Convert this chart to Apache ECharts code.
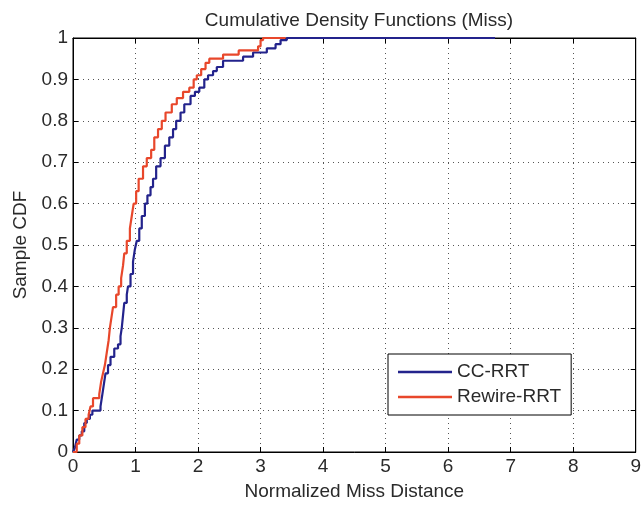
<!DOCTYPE html>
<html>
<head>
<meta charset="utf-8">
<script src="https://cdn.jsdelivr.net/npm/echarts@6/dist/echarts.min.js"></script>
<style>
  html, body { margin: 0; padding: 0; background: #fff; }
  #chart { width: 644px; height: 506px; }
</style>
</head>
<body>
<div id="chart"></div>
<script>
// Empirical CDF samples: [normalized miss distance, cumulative fraction]
const ccRrt = [
  [0.00, 0.00], [0.03, 0.01], [0.06, 0.03], [0.10, 0.04], [0.14, 0.05],
  [0.18, 0.07], [0.22, 0.08], [0.27, 0.09], [0.31, 0.10], [0.44, 0.11],
  [0.47, 0.14], [0.50, 0.17], [0.52, 0.19], [0.56, 0.21], [0.60, 0.23],
  [0.66, 0.25], [0.72, 0.26], [0.76, 0.28], [0.78, 0.30], [0.80, 0.33],
  [0.82, 0.36], [0.86, 0.38], [0.88, 0.40], [0.92, 0.43], [0.96, 0.46],
  [0.99, 0.49], [1.02, 0.51], [1.06, 0.54], [1.10, 0.57], [1.15, 0.60],
  [1.19, 0.62], [1.24, 0.64], [1.28, 0.66], [1.33, 0.69], [1.40, 0.71],
  [1.47, 0.74], [1.54, 0.76], [1.60, 0.78], [1.65, 0.80], [1.72, 0.82],
  [1.78, 0.84], [1.88, 0.86], [1.95, 0.87], [2.02, 0.88], [2.10, 0.90],
  [2.16, 0.91], [2.24, 0.92], [2.30, 0.93], [2.40, 0.945], [2.72, 0.955],
  [2.88, 0.965], [3.10, 0.975], [3.24, 0.985], [3.32, 0.995], [3.42, 1.00],
  [6.75, 1.00]
];

const rewireRrt = [
  [0.00, 0.00], [0.06, 0.02], [0.10, 0.04], [0.15, 0.06], [0.20, 0.08],
  [0.25, 0.09], [0.28, 0.11], [0.32, 0.13], [0.42, 0.14], [0.45, 0.17],
  [0.48, 0.19], [0.51, 0.21], [0.54, 0.24], [0.57, 0.27], [0.59, 0.30],
  [0.62, 0.33], [0.64, 0.35], [0.69, 0.38], [0.73, 0.40], [0.77, 0.42],
  [0.80, 0.45], [0.82, 0.48], [0.86, 0.51], [0.91, 0.54], [0.94, 0.57],
  [0.97, 0.60], [1.01, 0.63], [1.05, 0.66], [1.12, 0.69], [1.18, 0.71],
  [1.25, 0.73], [1.30, 0.76], [1.36, 0.78], [1.42, 0.80], [1.48, 0.82],
  [1.58, 0.84], [1.66, 0.855], [1.76, 0.87], [1.86, 0.88], [1.93, 0.90],
  [1.98, 0.91], [2.05, 0.925], [2.12, 0.94], [2.18, 0.95], [2.40, 0.96],
  [2.65, 0.97], [2.96, 0.98], [3.00, 0.995], [3.04, 1.00], [3.40, 1.00]
];

const seriesNames = ['CC-RRT', 'Rewire-RRT'];
const seriesColors = ['#23238c', '#e8472b'];

const FONT = 'Liberation Sans, Arial, sans-serif';
const TEXT = '#2a2a2a';

const chart = echarts.init(document.getElementById('chart'), null, { renderer: 'canvas' });

const baseX = {
  type: 'value', min: 0, max: 9, interval: 1,
  axisLine: { show: true, onZero: false, lineStyle: { color: '#000', width: 1 } },
  axisTick: { show: true, inside: true, length: 5, lineStyle: { color: '#000' } }
};
const baseY = {
  type: 'value', min: 0, max: 1, interval: 0.1,
  axisLine: { show: true, onZero: false, lineStyle: { color: '#000', width: 1 } },
  axisTick: { show: true, inside: true, length: 5, lineStyle: { color: '#000' } }
};

chart.setOption({
  animation: false,
  backgroundColor: '#fff',
  title: {
    text: 'Cumulative Density Functions (Miss)',
    left: 354, top: 6, textAlign: 'center',
    textStyle: { fontFamily: FONT, fontSize: 19, fontWeight: 'normal', color: TEXT }
  },
  grid: {
    left: 73, right: 8, top: 38, bottom: 49,
    show: true, borderColor: '#000', borderWidth: 1, backgroundColor: '#fff'
  },
  legend: {
    data: seriesNames,
    orient: 'vertical',
    left: 388, top: 354,
    padding: [8, 10, 8, 10],
    icon: 'rect',
    itemWidth: 54, itemHeight: 2.5, itemGap: 5,
    backgroundColor: '#fff', borderColor: '#000', borderWidth: 1,
    textStyle: { fontFamily: FONT, fontSize: 19, color: TEXT, lineHeight: 20 }
  },
  xAxis: [
    Object.assign({}, baseX, {
      position: 'bottom',
      name: 'Normalized Miss Distance', nameLocation: 'middle', nameGap: 30,
      nameTextStyle: { fontFamily: FONT, fontSize: 19, color: TEXT },
      axisLabel: { fontFamily: FONT, fontSize: 19, color: TEXT, margin: 5 },
      splitLine: { show: true, lineStyle: { color: '#555', type: [1, 4], width: 1 } }
    }),
    Object.assign({}, baseX, {
      position: 'top',
      axisLabel: { show: false }, splitLine: { show: false }
    })
  ],
  yAxis: [
    Object.assign({}, baseY, {
      position: 'left',
      name: 'Sample CDF', nameLocation: 'middle', nameGap: 40,
      nameTextStyle: { fontFamily: FONT, fontSize: 19, color: TEXT },
      axisLabel: { fontFamily: FONT, fontSize: 19, color: TEXT, margin: 5 },
      splitLine: { show: true, lineStyle: { color: '#555', type: [1, 4], width: 1 } }
    }),
    Object.assign({}, baseY, {
      position: 'right',
      axisLabel: { show: false }, splitLine: { show: false }
    })
  ],
  series: [
    {
      name: seriesNames[0], type: 'line', step: 'end', data: ccRrt,
      symbol: 'none', clip: false,
      color: seriesColors[0],
      itemStyle: { color: seriesColors[0] },
      lineStyle: { color: seriesColors[0], width: 2.2 }
    },
    {
      name: seriesNames[1], type: 'line', step: 'end', data: rewireRrt,
      symbol: 'none', clip: false,
      color: seriesColors[1],
      itemStyle: { color: seriesColors[1] },
      lineStyle: { color: seriesColors[1], width: 2.2 }
    }
  ]
});
</script>
</body>
</html>
